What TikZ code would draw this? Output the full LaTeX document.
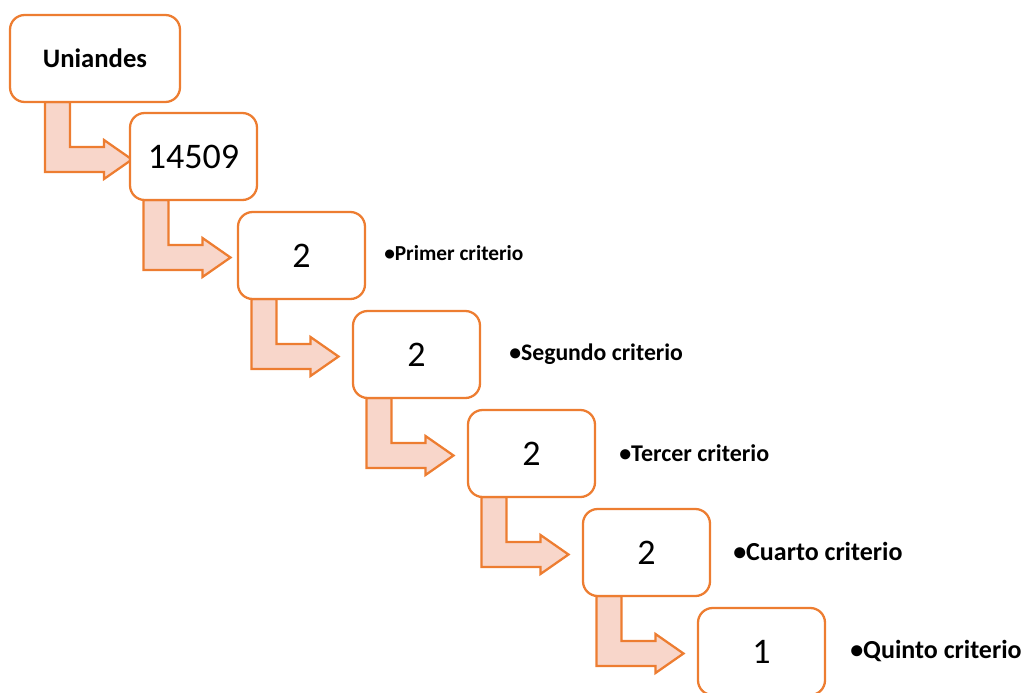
\documentclass[tikz,border=0pt]{standalone}
\usepackage{fontspec}
\setmainfont{Carlito}
\usepackage{xcolor}
\usepackage{tikz}
\usetikzlibrary{positioning, calc, backgrounds}

\definecolor{naranja}{RGB}{237,125,49}
\definecolor{salmon}{RGB}{248,214,202}

\begin{document}
\begin{tikzpicture}[x=0.75pt, y=-0.75pt]
    % Estilos
    \tikzset{
        stepbox/.style  = {rectangle, draw=naranja, line width=1.7pt, fill=white, rounded corners=11pt, minimum width=95.25pt, minimum height=65.25pt, inner sep=0pt, outer sep=0pt, font=\fontsize{27}{32}\selectfont},
        crit/.style     = {inner sep=0pt, yshift=0.5pt},
        bendarrow/.style = {draw=naranja, fill=salmon, line width=1.7pt, line join=miter}
    }
    \useasboundingbox (0,0) rectangle (1029,693);

    % Cajas en escalera
    \node [stepbox, minimum width=127.5pt, font=\fontsize{20}{24}\selectfont\bfseries] (uni) at (95,58.5) {Uniandes};
    \node [stepbox, below right=8.25pt and -37.5pt of uni] (total) {14509};
    \node [stepbox, below right=9pt and -14.25pt of total] (c1) {2};
    \node [stepbox, below right=9pt and -9pt of c1] (c2) {2};
    \node [stepbox, below right=9pt and -9pt of c2] (c3) {2};
    \node [stepbox, below right=9pt and -9pt of c3] (c4) {2};
    \node [stepbox, below right=9pt and -9pt of c4] (c5) {1};

    % Criterios a la derecha de cada caja
    \node [crit, right=14.25pt of c1, yshift=1.5pt, font=\fontsize{16}{19}\selectfont\bfseries] (k1) {\textbullet Primer criterio};
    \node [crit, right=21.75pt of c2, font=\fontsize{17.8}{21}\selectfont\bfseries] (k2) {\textbullet Segundo criterio};
    \node [crit, right=18pt of c3, font=\fontsize{18}{21}\selectfont\bfseries] (k3) {\textbullet Tercer criterio};
    \node [crit, right=17.25pt of c4, font=\fontsize{19.5}{23}\selectfont\bfseries] (k4) {\textbullet Cuarto criterio};
    \node [crit, right=18.75pt of c5, font=\fontsize{19.5}{23}\selectfont\bfseries] (k5) {\textbullet Quinto criterio};

    % Flechas dobladas (detras de las cajas)
    \begin{scope}[on background layer]
        \foreach \a in {uni, total, c1, c2, c3, c4}
            \draw [bendarrow] ($(\a.south)+(-50,0)$) -- ++(0,70) -- ++(59,0) -- ++(0,7) -- ++(28,-19.5) -- ++(-28,-19.5) -- ++(0,7) -- ++(-34,0) -- ++(0,-45) -- cycle;
    \end{scope}
\end{tikzpicture}
\end{document}
